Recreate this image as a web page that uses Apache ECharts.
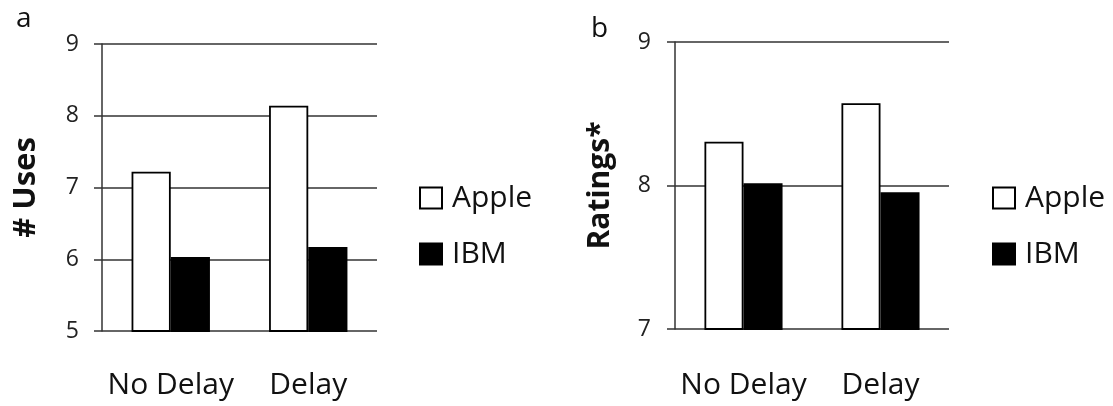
<!DOCTYPE html>
<html><head><meta charset="utf-8">
<script src="https://cdn.jsdelivr.net/npm/echarts@6/dist/echarts.min.js"></script>
<style>html,body{margin:0;padding:0;background:#fff}#c{width:1113px;height:406px}</style>
</head><body><div id="c"></div>
<script>
const categories = ['No Delay', 'Delay'];
const seriesNames = ['Apple', 'IBM'];
const usesApple = [7.22, 8.14];
const usesIBM = [6.03, 6.17];
const ratingsApple = [8.305, 8.573];
const ratingsIBM = [8.015, 7.953];
const usesTicks = [5, 9, 1];
const ratingsTicks = [7, 9, 1];

const FONT = 'Open Sans';
const chart = echarts.init(document.getElementById('c'), null, {renderer: 'canvas'});
const lineCol = '#333';

function xAxis(gridIndex, margin) {
  return {
    type: 'category', gridIndex, data: categories,
    axisLine: {show: false}, axisTick: {show: false},
    axisLabel: {fontFamily: FONT, fontSize: 30, color: '#111', margin, interval: 0}
  };
}
function yAxis(gridIndex, ticks, name, nameGap, nameSize, labelMargin) {
  return {
    type: 'value', gridIndex, min: ticks[0], max: ticks[1], interval: ticks[2],
    name, nameLocation: 'middle', nameGap, nameRotate: 90,
    nameTextStyle: {fontFamily: FONT, fontSize: nameSize, fontWeight: 'bold', color: '#111'},
    axisLine: {show: true, lineStyle: {color: lineCol, width: 1.5}},
    axisTick: {show: true, length: 8, lineStyle: {color: lineCol, width: 1.5}},
    axisLabel: {fontFamily: FONT, fontSize: 23, color: '#222', margin: labelMargin},
    splitLine: {show: true, lineStyle: {color: lineCol, width: 1.5}}
  };
}
function bar(name, data, idx, fill) {
  return {
    type: 'bar', name, data, xAxisIndex: idx, yAxisIndex: idx,
    barWidth: '28.5%', barGap: '0%',
    itemStyle: {color: fill, borderColor: '#000', borderWidth: 1.8},
    emphasis: {disabled: true}, animation: false
  };
}
function legend(left, top) {
  return {
    orient: 'vertical', left, top, data: seriesNames,
    itemWidth: 22, itemHeight: 21, itemGap: 26, icon: 'rect',
    textStyle: {fontFamily: FONT, fontSize: 30, color: '#111', padding: [0,0,0,5]},
    selectedMode: false
  };
}

chart.setOption({
  animation: false,
  backgroundColor: '#fff',
  title: [
    {text: 'a', left: 11, top: 0, textStyle: {fontFamily: FONT, fontSize: 28, fontWeight: 'normal', color: '#111'}},
    {text: 'b', left: 586, top: 10, textStyle: {fontFamily: FONT, fontSize: 28, fontWeight: 'normal', color: '#111'}}
  ],
  grid: [
    {left: 102, right: 736, top: 44, bottom: 75},
    {left: 675, right: 164, top: 42, bottom: 77}
  ],
  legend: [legend(414, 178), legend(987, 178)],
  xAxis: [xAxis(0, 39), xAxis(1, 41)],
  yAxis: [yAxis(0, usesTicks, '# Uses', 60, 31, 23), yAxis(1, ratingsTicks, 'Ratings*', 60, 30, 24)],
  series: [
    bar('Apple', usesApple, 0, '#fff'),
    bar('IBM', usesIBM, 0, '#000'),
    bar('Apple', ratingsApple, 1, '#fff'),
    bar('IBM', ratingsIBM, 1, '#000')
  ]
});
</script></body></html>
